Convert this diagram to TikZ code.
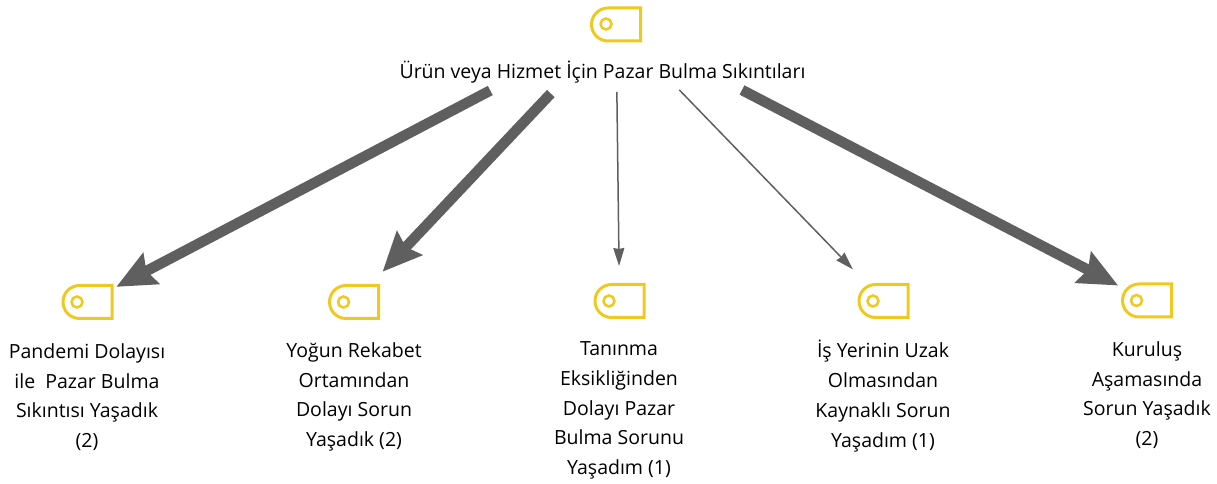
\documentclass[tikz,border=0pt]{standalone}
\usepackage{fontspec}
\setmainfont{Open Sans}
\usetikzlibrary{arrows.meta,shapes.misc}
\definecolor{tagyellow}{HTML}{F0C91E}
\definecolor{arrowgray}{HTML}{5F5F5F}
\newcommand{\firstline}{\rule{0pt}{13.5pt}}
\tikzset{
	tag/.style={draw=tagyellow,line width=.06cm,rounded rectangle,rounded rectangle right arc=none,minimum width=.98cm,minimum height=.66cm,inner sep=0pt},
	ring/.style={draw=tagyellow,line width=.05cm,circle,minimum size=.22cm,inner sep=0pt},
	label/.style={align=center,font=\fontsize{11.1pt}{17pt}\selectfont,anchor=north,inner sep=0pt,execute at begin node=\firstline},
	heavy/.style={draw=arrowgray,line width=.21cm,-{Stealth[length=.78cm,width=.68cm,inset=.1cm]}},
	light/.style={draw=arrowgray,line width=.03cm,-{Stealth[length=.36cm,width=.22cm,inset=.02cm]}}
}
\begin{document}
\begin{tikzpicture}
	\useasboundingbox (0,0) rectangle (24.34,9.68);
	\node[tag] (tag0) at (12.32, 9.19) {};
	\node[tag] (tag1) at (1.75, 3.64) {};
	\node[tag] (tag2) at (7.08, 3.64) {};
	\node[tag] (tag3) at (12.39, 3.66) {};
	\node[tag] (tag4) at (17.67, 3.66) {};
	\node[tag] (tag5) at (22.94, 3.67) {};
	\node[ring] (ring0) at (12.12, 9.2) {};
	\node[ring] (ring1) at (1.54, 3.64) {};
	\node[ring] (ring2) at (6.87, 3.64) {};
	\node[ring] (ring3) at (12.18, 3.66) {};
	\node[ring] (ring4) at (17.46, 3.66) {};
	\node[ring] (ring5) at (22.73, 3.67) {};
	\node[label] (root) at (12.05, 8.60) {Ürün veya Hizmet İçin Pazar Bulma Sıkıntıları};
	\node[label] (text1) at (1.74, 2.82) {Pandemi Dolayısı\\ile\ \ Pazar Bulma\\Sıkıntısı Yaşadık\\(2)};
	\node[label] (text2) at (7.08, 2.84) {Yoğun Rekabet\\Ortamından\\Dolayı Sorun\\Yaşadık (2)};
	\node[label] (text3) at (12.38, 2.86) {Tanınma\\Eksikliğinden\\Dolayı Pazar\\Bulma Sorunu\\Yaşadım (1)};
	\node[label] (text4) at (17.66, 2.88) {İş Yerinin Uzak\\Olmasından\\Kaynaklı Sorun\\Yaşadım (1)};
	\node[label] (text5) at (22.94, 2.86) {Kuruluş\\Aşamasında\\Sorun Yaşadık\\(2)};
	\draw[heavy,shorten <=2.84cm,shorten >=.65cm] (tag0.center) to (tag1.center);
	\draw[heavy,shorten <=1.9cm,shorten >=.83cm] (tag0.center) to (tag2.center);
	\draw[light,shorten <=1.35cm,shorten >=.7cm] (tag0.center) to (tag3.center);
	\draw[light,shorten <=1.82cm,shorten >=.88cm] (tag0.center) to (tag4.center);
	\draw[heavy,shorten <=2.84cm,shorten >=.65cm] (tag0.center) to (tag5.center);
\end{tikzpicture}
\end{document}
